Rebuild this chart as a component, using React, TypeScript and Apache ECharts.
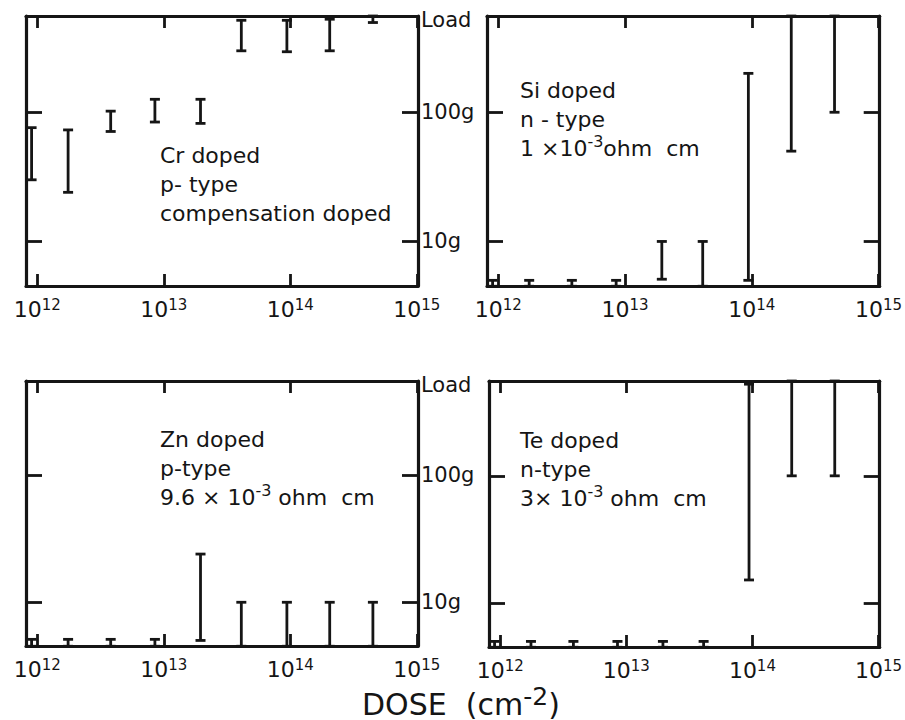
import React, { useEffect, useRef } from "react";
import * as echarts from "echarts";

// ---- data (doses in cm^-2, loads in grams) ----
const doses = [9e11, 1.75e12, 3.8e12, 8.5e12, 1.95e13, 4.1e13, 9.4e13, 2.05e14, 4.5e14];

const crHigh = [76, 73, 102, 126, 126, 515, 515, 525, 556];
const crLow = [30, 24, 71, 84, 82, 299, 294, 299, 495];

const siHigh = [5.0, 5.0, 5.0, 5.0, 10, 10, 200, 556, 556];
const siLow = [4.5, 4.5, 4.5, 4.5, 5.1, 4.5, 5.0, 50, 100];

const znHigh = [5.1, 5.1, 5.1, 5.1, 24, 10, 10, 10, 10];
const znLow = [4.5, 4.5, 4.5, 4.5, 5.0, 4.5, 4.5, 4.5, 4.5];

const teHigh = [5.0, 5.0, 5.0, 5.0, 5.0, 5.0, 525, 556, 556];
const teLow = [4.5, 4.5, 4.5, 4.5, 4.5, 4.5, 15.2, 100, 100];

const xTickExponents = [12, 13, 14, 15];
const yTickLoads = [10, 100, 556];
const yTickLabels = ["10g", "100g", "Load"];

const DOSE_MIN = 8.13e11;
const DOSE_MAX = 1.023e15;
const LOAD_MIN = 4.52;
const LOAD_MAX = 556;

// ---- styling ----
const INK = "#151515";
const FONT = '"DejaVu Sans", "Liberation Sans", sans-serif';

const X_MIN = Math.log10(DOSE_MIN);
const X_MAX = Math.log10(DOSE_MAX);
const Y_MIN = Math.log10(LOAD_MIN);
const Y_MAX = Math.log10(LOAD_MAX);

type Panel = {
  low: number[];
  high: number[];
  grid: { left: number; top: number; width: number; height: number };
  rightLabels: boolean;
};

const panels: Panel[] = [
  { low: crLow, high: crHigh, grid: { left: 26, top: 16, width: 392, height: 270 }, rightLabels: true },
  { low: siLow, high: siHigh, grid: { left: 487, top: 16, width: 394, height: 270 }, rightLabels: false },
  { low: znLow, high: znHigh, grid: { left: 26, top: 381, width: 392, height: 265 }, rightLabels: true },
  { low: teLow, high: teHigh, grid: { left: 489, top: 381, width: 394, height: 266 }, rightLabels: false },
];

const notes = [
  { left: 160, top: 144, text: "{t|Cr doped}\n{t|p- type}\n{t|compensation doped}" },
  { left: 520, top: 79, text: "{t|Si doped}\n{t|n - type}\n{t|1 ×10}{s|-3}{t|ohm  cm}" },
  { left: 160, top: 428, text: "{t|Zn doped}\n{t|p-type}\n{t|9.6 × 10}{s|-3}{t| ohm  cm}" },
  { left: 520, top: 429, text: "{t|Te doped}\n{t|n-type}\n{t|3× 10}{s|-3}{t| ohm  cm}" },
];

function buildOption() {
  const xTicks = xTickExponents;
  const yTicks = yTickLoads.map((v) => Math.log10(v));

  const grids: any[] = [];
  const xAxes: any[] = [];
  const yAxes: any[] = [];
  const series: any[] = [];

  const lineAxis = { show: true, onZero: false, lineStyle: { color: INK, width: 3.2 } };
  const tickStyle = { color: INK, width: 2.8 };

  panels.forEach((p, gi) => {
    grids.push({ ...p.grid, containLabel: false });

    xAxes.push({
      gridIndex: gi,
      type: "value",
      position: "bottom",
      min: X_MIN,
      max: X_MAX,
      axisLine: lineAxis,
      axisTick: { show: true, inside: true, length: 12, customValues: xTicks, lineStyle: tickStyle },
      axisLabel: {
        show: true,
        customValues: xTicks,
        margin: 11,
        formatter: (v: number) => `{b|10}{s|${Math.round(v)}}`,
        rich: {
          b: { fontSize: 22, fontFamily: FONT, color: INK, lineHeight: 25 },
          s: { fontSize: 15, fontFamily: FONT, color: INK, lineHeight: 14, verticalAlign: "top" },
        },
      },
      splitLine: { show: false },
    });
    xAxes.push({
      gridIndex: gi,
      type: "value",
      position: "top",
      min: X_MIN,
      max: X_MAX,
      axisLine: lineAxis,
      axisTick: { show: true, inside: true, length: 12, customValues: xTicks, lineStyle: tickStyle },
      axisLabel: { show: false },
      splitLine: { show: false },
    });
    yAxes.push({
      gridIndex: gi,
      type: "value",
      position: "left",
      min: Y_MIN,
      max: Y_MAX,
      axisLine: lineAxis,
      axisTick: { show: true, inside: true, length: 16, customValues: yTicks.slice(0, 2), lineStyle: tickStyle },
      axisLabel: { show: false },
      splitLine: { show: false },
    });
    yAxes.push({
      gridIndex: gi,
      type: "value",
      position: "right",
      min: Y_MIN,
      max: Y_MAX,
      axisLine: lineAxis,
      axisTick: { show: true, inside: true, length: 16, customValues: yTicks.slice(0, 2), lineStyle: tickStyle },
      axisLabel: p.rightLabels
        ? {
            show: true,
            customValues: yTicks,
            margin: 3,
            formatter: (v: number) => {
              let best = 0;
              yTicks.forEach((t, i) => {
                if (Math.abs(t - v) < Math.abs(yTicks[best] - v)) best = i;
              });
              return best === 2 ? `{l|${yTickLabels[best]}}` : `{n|${yTickLabels[best]}}`;
            },
            rich: {
              n: { fontSize: 21, fontFamily: FONT, color: INK },
              l: { fontSize: 21, fontFamily: FONT, color: INK, padding: [8, 0, 0, 0] },
            },
          }
        : { show: false },
      splitLine: { show: false },
    });

    const data = doses.map((d, i) => [Math.log10(d), Math.log10(p.low[i]), Math.log10(p.high[i])]);
    series.push({
      type: "custom",
      xAxisIndex: gi * 2,
      yAxisIndex: gi * 2,
      clip: false,
      data,
      renderItem: (_params: any, api: any) => {
        const x = api.value(0);
        const lo = api.value(1);
        const hi = api.value(2);
        const top = api.coord([x, hi]);
        const bot = api.coord([x, lo]);
        const w = 5;
        const style = { stroke: INK, lineWidth: 2.8 };
        return {
          type: "group",
          children: [
            { type: "line", shape: { x1: top[0], y1: top[1], x2: bot[0], y2: bot[1] }, style },
            { type: "line", shape: { x1: top[0] - w, y1: top[1], x2: top[0] + w, y2: top[1] }, style },
            { type: "line", shape: { x1: bot[0] - w, y1: bot[1], x2: bot[0] + w, y2: bot[1] }, style },
          ],
        };
      },
    });
  });

  const graphic: any[] = notes.map((n) => ({
    type: "text",
    left: n.left,
    top: n.top,
    style: {
      text: n.text,
      fill: INK,
      rich: {
        t: { fontSize: 22, fontFamily: FONT, fill: INK, color: INK, lineHeight: 29 },
        s: { fontSize: 16, fontFamily: FONT, fill: INK, color: INK, lineHeight: 14, verticalAlign: "top" },
      },
    },
  }));

  graphic.push({
    type: "text",
    left: 362,
    top: 684,
    style: {
      text: "{t|DOSE  (cm}{s|-2}{t|)}",
      fill: INK,
      rich: {
        t: { fontSize: 30, fontFamily: FONT, fill: INK, color: INK, lineHeight: 40 },
        s: { fontSize: 25, fontFamily: FONT, fill: INK, color: INK, lineHeight: 16, verticalAlign: "top" },
      },
    },
  });

  return {
    animation: false,
    backgroundColor: "#ffffff",
    textStyle: { fontFamily: FONT, color: INK },
    grid: grids,
    xAxis: xAxes,
    yAxis: yAxes,
    series,
    graphic,
  };
}

export default function App() {
  const ref = useRef<HTMLDivElement | null>(null);
  useEffect(() => {
    if (!ref.current) return;
    const chart = echarts.init(ref.current, null, { renderer: "svg" });
    chart.setOption(buildOption());
    return () => chart.dispose();
  }, []);
  return (
    <div
      ref={ref}
      style={{ position: "absolute", left: 0, top: 0, width: 905, height: 720, background: "#fff" }}
    />
  );
}
